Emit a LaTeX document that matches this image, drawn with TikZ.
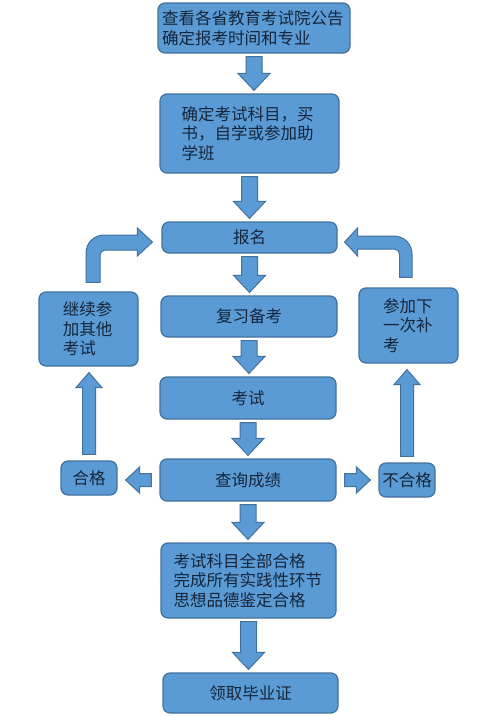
\documentclass[tikz,border=0pt]{standalone}
\usepackage{fontspec}
\newfontfamily\cjk{Noto Sans CJK SC}
\usetikzlibrary{calc}
\definecolor{boxfill}{HTML}{5B9BD5}
\definecolor{boxline}{HTML}{41719C}
\definecolor{txt}{HTML}{15253A}
\tikzset{
  box/.style={draw=boxline, fill=boxfill, line width=1.2pt, rounded corners=7pt,
    inner sep=0pt, text=txt, font=\cjk\fontsize{16.5}{19.5}\selectfont},
  blockarrow/.style={draw=boxline, fill=boxfill, line width=1pt, line join=miter}
}
% straight block arrows: #1 from, #2 to, #3 shaft half width, #4 head half width, #5 head length, #6 gap
\newcommand\arrdown[6]{\path[blockarrow] let \p1=(#1.south), \p2=(#2.north) in
  (\x1-#3pt,\y1-#6pt) -- (\x1+#3pt,\y1-#6pt) -- (\x1+#3pt,\y2+#6pt+#5pt) -- (\x1+#4pt,\y2+#6pt+#5pt)
  -- (\x1,\y2+#6pt) -- (\x1-#4pt,\y2+#6pt+#5pt) -- (\x1-#3pt,\y2+#6pt+#5pt) -- cycle;}
\newcommand\arrup[6]{\path[blockarrow] let \p1=(#1.north), \p2=(#2.south) in
  (\x1-#3pt,\y1+#6pt) -- (\x1+#3pt,\y1+#6pt) -- (\x1+#3pt,\y2-#6pt-#5pt) -- (\x1+#4pt,\y2-#6pt-#5pt)
  -- (\x1,\y2-#6pt) -- (\x1-#4pt,\y2-#6pt-#5pt) -- (\x1-#3pt,\y2-#6pt-#5pt) -- cycle;}
\newcommand\arrleft[6]{\path[blockarrow] let \p1=(#1.west), \p2=(#2.east) in
  (\x1-#6pt,\y1+#3pt) -- (\x1-#6pt,\y1-#3pt) -- (\x2+#6pt+#5pt,\y1-#3pt) -- (\x2+#6pt+#5pt,\y1-#4pt)
  -- (\x2+#6pt,\y1) -- (\x2+#6pt+#5pt,\y1+#4pt) -- (\x2+#6pt+#5pt,\y1+#3pt) -- cycle;}
\newcommand\arrright[6]{\path[blockarrow] let \p1=(#1.east), \p2=(#2.west) in
  (\x1+#6pt,\y1+#3pt) -- (\x1+#6pt,\y1-#3pt) -- (\x2-#6pt-#5pt,\y1-#3pt) -- (\x2-#6pt-#5pt,\y1-#4pt)
  -- (\x2-#6pt,\y1) -- (\x2-#6pt-#5pt,\y1+#4pt) -- (\x2-#6pt-#5pt,\y1+#3pt) -- cycle;}
\begin{document}
\begin{tikzpicture}[x=1pt,y=-1pt]
\useasboundingbox[fill=white] (0,0) rectangle (491,716);
\node[box, minimum width=192pt, minimum height=50pt, text width=184pt, align=left] (b1) at (254,28)
  {查看各省教育考试院公告\\确定报考时间和专业};
\node[box, minimum width=179pt, minimum height=79pt, text width=136pt, align=left] (b2) at (249.5,133.5)
  {确定考试科目，买\\书，自学或参加助\\学班};
\node[box, minimum width=175pt, minimum height=31pt, align=center] (reg) at (249.5,237.5) {报名};
\node[box, minimum width=176pt, minimum height=41pt, align=center] (rev) at (249,316.5) {复习备考};
\node[box, minimum width=176pt, minimum height=42pt, align=center] (exam) at (248,398) {考试};
\node[box, minimum width=176pt, minimum height=42pt, align=center] (query) at (248,480) {查询成绩};
\node[box, minimum width=56pt, minimum height=34pt, align=center] (pass) at (89,478) {合格};
\node[box, minimum width=56pt, minimum height=34pt, align=center] (fail) at (407,480) {不合格};
\node[box, minimum width=99pt, minimum height=74pt, text width=51pt, align=left] (L) at (88.5,329)
  {继续参\\加其他\\考试};
\node[box, minimum width=99pt, minimum height=75pt, text width=51pt, align=left] (R) at (408.5,325.5)
  {参加下\\一次补\\考};
\node[box, minimum width=175pt, minimum height=75pt, text width=150pt, align=left] (all) at (248.5,580.5)
  {考试科目全部合格\\完成所有实践性环节\\思想品德鉴定合格};
\node[box, minimum width=175pt, minimum height=40pt, align=center] (cert) at (250.5,693) {领取毕业证};

\arrdown{b1}{b2}{8}{16}{17}{3}
\arrdown{b2}{reg}{8}{16}{17}{3}
\arrdown{reg}{rev}{8}{16}{17}{3}
\arrdown{rev}{exam}{8}{16}{17}{3}
\arrdown{exam}{query}{8}{16}{17}{3}
\arrdown{query}{all}{8}{16}{17}{3}
\arrdown{all}{cert}{8}{16}{17}{3}
\arrleft{query}{pass}{6.5}{13}{14}{8}
\arrright{query}{fail}{6.5}{13}{14}{8}
\arrup{pass}{L}{6.5}{13}{15}{6}
\arrup{fail}{R}{6.5}{13}{15}{6}
% curved arrows back to registration
\path[blockarrow] let \p1=(L.north), \p2=(reg.west) in
  (\x1-2.5pt,\y1+9pt) -- (\x1-2.5pt,\y2+2.5pt-18pt) arc[start angle=180,end angle=90,radius=18pt]
  -- (\x2-24pt,\y2+2.5pt) -- (\x2-24pt,\y2+9.5pt) -- (\x2-9pt,\y2-4.5pt)
  -- (\x2-24pt,\y2-18.5pt) -- (\x2-24pt,\y2-12.5pt)
  -- (\x1+16.5pt,\y2-12.5pt) arc[start angle=90,end angle=180,radius=5pt]
  -- (\x1+11.5pt,\y1+9pt) -- cycle;
\path[blockarrow] let \p1=(R.north), \p2=(reg.east) in
  (\x1+3.5pt,\y1+10pt) -- (\x1+3.5pt,\y2+1.5pt-18pt) arc[start angle=0,end angle=90,radius=18pt]
  -- (\x2+20pt,\y2+1.5pt) -- (\x2+20pt,\y2+9.5pt) -- (\x2+7pt,\y2-4.5pt)
  -- (\x2+20pt,\y2-18.5pt) -- (\x2+20pt,\y2-11.5pt)
  -- (\x1-14pt,\y2-11.5pt) arc[start angle=90,end angle=0,radius=5pt]
  -- (\x1-9pt,\y1+10pt) -- cycle;
\end{tikzpicture}
\end{document}
